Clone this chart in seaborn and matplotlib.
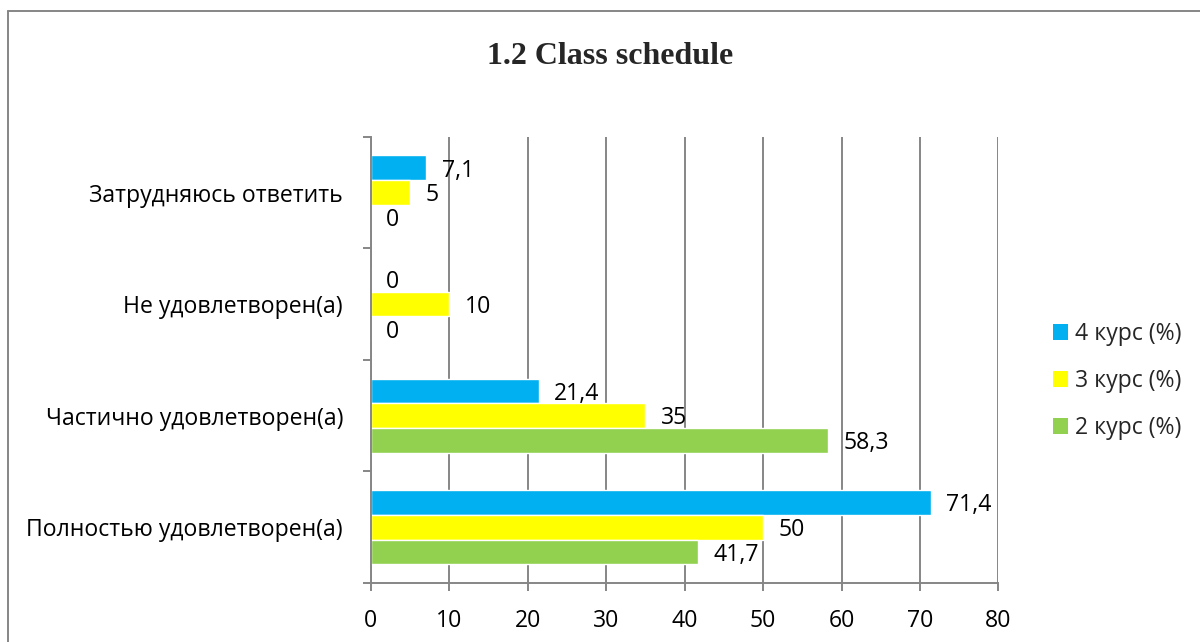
import pandas as pd
import matplotlib.pyplot as plt
import matplotlib.ticker as mticker
from matplotlib.lines import Line2D
from matplotlib.patches import Patch
import seaborn as sns

# -----------------------------------------------------------------------------
# Data
# -----------------------------------------------------------------------------

categories = [
    "Затрудняюсь ответить",
    "Не удовлетворен(а)",
    "Частично удовлетворен(а)",
    "Полностью удовлетворен(а)",
]
series = ["4 курс (%)", "3 курс (%)", "2 курс (%)"]
kurs4 = [7.1, 0, 21.4, 71.4]
kurs3 = [5, 10, 35, 50]
kurs2 = [0, 0, 58.3, 41.7]
colors = ["#00B0F0", "#FFFF00", "#92D050"]

df = pd.DataFrame(
    {
        "category": categories * 3,
        "series": [s for s in series for _ in categories],
        "value": kurs4 + kurs3 + kurs2,
    }
)

# -----------------------------------------------------------------------------
# Style
# -----------------------------------------------------------------------------

sns.set_theme(style="white")
plt.rcParams["font.family"] = ["Open Sans", "DejaVu Sans"]
grey = "#868686"
fs = 16.6

fig = plt.figure(figsize=(12, 6.42), dpi=100)
ax = fig.add_axes([0.309, 0.092, 0.523, 0.695])

sns.barplot(
    data=df,
    y="category",
    x="value",
    hue="series",
    order=categories,
    hue_order=series,
    palette=colors,
    orient="h",
    width=0.665,
    saturation=1,
    errorbar=None,
    legend=False,
    ax=ax,
)


def fmt(v):
    return f"{v:g}".replace(".", ",")


for cont in ax.containers:
    texts = ax.bar_label(
        cont,
        labels=[fmt(b.get_width()) for b in cont],
        padding=11,
        fontsize=fs,
        color="black",
    )
    # nudge labels down a little, like the original
    for t in texts:
        x, y = t.xyann
        t.xyann = (x, y - 2)

# axes
ax.set_xlim(0, 80)
ax.set_ylim(3.5, -0.5)
ax.xaxis.set_major_locator(mticker.MultipleLocator(10))
ax.grid(axis="x", color=grey, lw=1.4)
ax.set_axisbelow(True)
ax.set(xlabel="", ylabel="")

ax.yaxis.set_major_locator(mticker.FixedLocator([-0.5, 0.5, 1.5, 2.5, 3.5]))
ax.yaxis.set_major_formatter(mticker.NullFormatter())
ax.yaxis.set_minor_locator(mticker.FixedLocator(range(len(categories))))
ax.yaxis.set_minor_formatter(mticker.FixedFormatter(categories))
ax.tick_params(axis="y", which="major", length=6, width=1.4, color=grey, left=True)
ax.tick_params(axis="y", which="minor", length=0, labelsize=fs, pad=20, colors="black")
ax.tick_params(axis="x", length=6, width=1.4, color=grey, bottom=True,
               labelsize=fs, pad=13, labelcolor="black")

for s in ["top", "right"]:
    ax.spines[s].set_visible(False)
for s in ["left", "bottom"]:
    ax.spines[s].set_color(grey)
    ax.spines[s].set_linewidth(1.4)

# legend
handles = [Patch(facecolor=c, edgecolor="none") for c in colors]
fig.legend(
    handles,
    series,
    loc="center left",
    bbox_to_anchor=(1032 / 1200, 1 - 381 / 642),
    frameon=False,
    fontsize=fs,
    handlelength=0.65,
    handleheight=0.65,
    handletextpad=0.3,
    labelspacing=1.0,
)

# title
fig.text(
    610 / 1200,
    1 - 56 / 642,
    "1.2 Class schedule",
    ha="center",
    va="center",
    fontsize=23,
    fontweight="bold",
    family="Liberation Serif",
)

# outer frame (left and top edges)
fig.add_artist(Line2D([8 / 1200, 8 / 1200], [0, 1 - 11 / 642], color=grey, lw=1.4,
                      transform=fig.transFigure))
fig.add_artist(Line2D([8 / 1200, 1], [1 - 11 / 642, 1 - 11 / 642], color=grey, lw=1.4,
                      transform=fig.transFigure))

fig.savefig("out.png", dpi=100)
